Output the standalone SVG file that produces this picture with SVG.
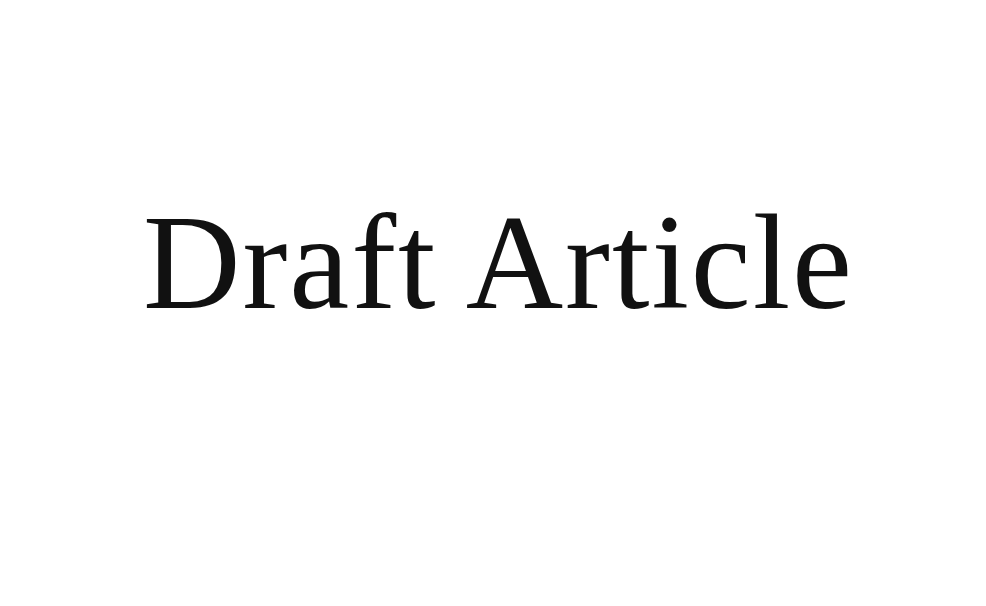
<svg xmlns="http://www.w3.org/2000/svg" width="986" height="606" viewBox="0 0 986 606">
<style>
.title{font-family:"Liberation Serif","DejaVu Serif",serif;font-size:135px;fill:#111111;}
</style>
<rect width="986" height="606" fill="#ffffff"/>
<g id="title">
<text class="title" x="143" y="308" textLength="709" lengthAdjust="spacing">Draft Article</text>
</g>
</svg>
